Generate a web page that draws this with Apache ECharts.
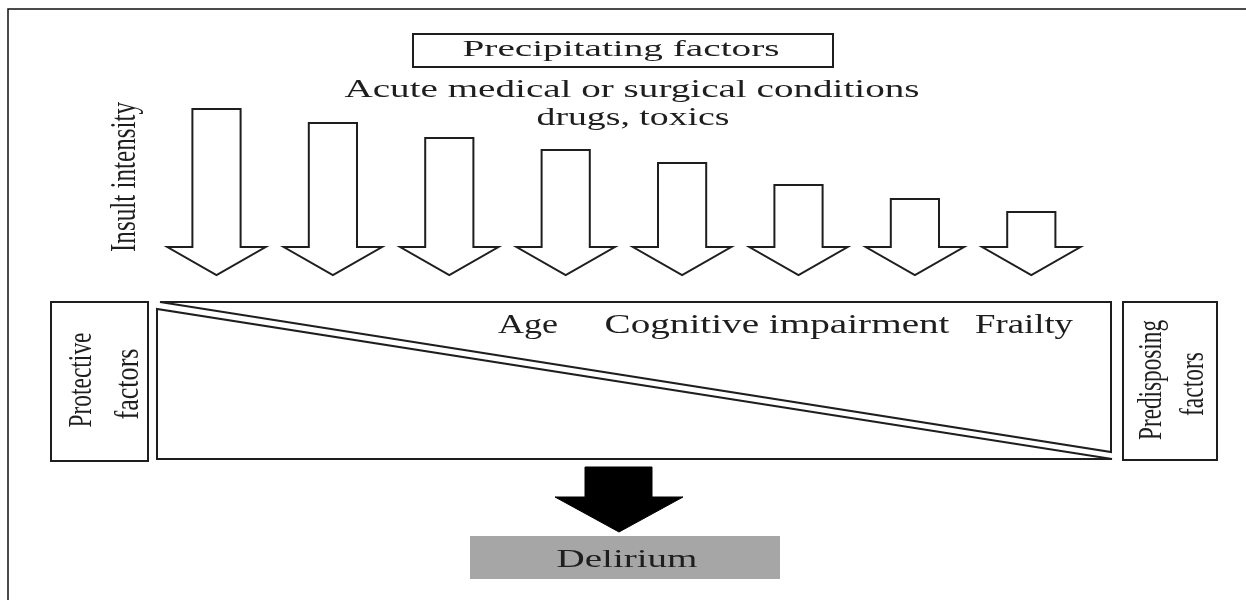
<!DOCTYPE html>
<html>
<head>
<meta charset="utf-8">
<script src="https://cdn.jsdelivr.net/npm/echarts@6/dist/echarts.min.js"></script>
<style>
  html, body { margin: 0; padding: 0; background: #fff; }
  #main { width: 1246px; height: 600px; }
</style>
</head>
<body>
<div id="main"></div>
<script>
// precipitating insults, strongest first (arrow length = insult intensity)
var insultLevels = ['1', '2', '3', '4', '5', '6', '7', '8'];
var insultIntensity = [166, 152, 137, 125, 112, 90, 76, 63];

var precipitatingTitle = 'Precipitating factors';
var precipitatingLines = ['Acute medical or surgical conditions', 'drugs, toxics'];
var predisposingFactors = ['Age', 'Cognitive impairment', 'Frailty'];
var outcome = 'Delirium';

var SERIF = '"Liberation Serif", "Times New Roman", serif';
var INK = '#1e1e1e';
var headLength = 28;

var measureCtx = document.createElement('canvas').getContext('2d');
function textWidth(t, size) {
    measureCtx.font = size + 'px ' + SERIF;
    return measureCtx.measureText(t).width;
}

// horizontal text stretched to a given width (the figure is wide-set)
function hText(t, cx, cy, size, width) {
    return {
        type: 'text', silent: true, x: cx, y: cy,
        scaleX: width / textWidth(t, size),
        style: {
            text: t, x: 0, y: 0, fill: INK,
            fontSize: size, fontFamily: SERIF,
            align: 'center', verticalAlign: 'middle',
            textAlign: 'center', textVerticalAlign: 'middle'
        }
    };
}

// vertical text reading bottom to top
function vText(t, cx, cy, size, length, across) {
    return {
        type: 'text', silent: true, x: cx, y: cy,
        rotation: Math.PI / 2,
        scaleX: length / textWidth(t, size),
        scaleY: across,
        style: {
            text: t, x: 0, y: 0, fill: INK,
            fontSize: size, fontFamily: SERIF,
            align: 'center', verticalAlign: 'middle',
            textAlign: 'center', textVerticalAlign: 'middle'
        }
    };
}

function box(x, y, w, h) {
    return {
        type: 'rect', silent: true,
        shape: { x: x, y: y, width: w, height: h },
        style: { fill: 'none', stroke: INK, lineWidth: 2 }
    };
}

var graphics = [
    // outer frame (left and top only)
    { type: 'polyline', silent: true,
      shape: { points: [[8, 600], [8, 9], [1246, 9]] },
      style: { stroke: '#111', lineWidth: 1.5, fill: 'none' } },

    box(413, 34, 420, 33),
    hText(precipitatingTitle, 621, 50, 24, 317),
    hText(precipitatingLines[0], 632, 90, 25, 575),
    hText(precipitatingLines[1], 633, 118, 25, 193),

    vText('Insult intensity', 126, 177, 25, 150, 1.4),

    // protective / predisposing wedge
    { type: 'polygon', silent: true,
      shape: { points: [[160, 302], [1111, 302], [1111, 452]] },
      style: { fill: 'none', stroke: INK, lineWidth: 2 } },
    { type: 'polygon', silent: true,
      shape: { points: [[157, 309], [157, 459], [1112, 459]] },
      style: { fill: 'none', stroke: INK, lineWidth: 2 } },

    hText(predisposingFactors[0], 528, 326, 27, 60),
    hText(predisposingFactors[1], 777, 326, 27, 345),
    hText(predisposingFactors[2], 1024, 326, 27, 98),

    box(51, 302, 97, 159),
    vText('Protective', 82, 380, 23, 95, 1.5),
    vText('factors', 129, 384, 23, 71, 1.5),

    box(1123, 302, 94, 158),
    vText('Predisposing', 1152, 380, 23, 120, 1.5),
    vText('factors', 1194, 384, 23, 64, 1.5),

    // outcome
    { type: 'polygon', silent: true,
      shape: { points: [[585, 467], [652, 467], [652, 497], [683, 497], [619, 532], [555, 497], [585, 497]] },
      style: { fill: '#000', stroke: '#000', lineWidth: 1 } },
    { type: 'rect', silent: true,
      shape: { x: 470, y: 536, width: 310, height: 43 },
      style: { fill: '#a6a6a6' } },
    hText(outcome, 627, 560, 26, 141)
];

var chart = echarts.init(document.getElementById('main'));
chart.setOption({
    animation: false,
    backgroundColor: '#fff',
    grid: { left: 158.3, right: 156.5, top: 75, bottom: 325 },
    xAxis: { type: 'category', data: insultLevels, show: false },
    yAxis: { type: 'value', min: 0, max: 200, show: false },
    series: [{
        type: 'custom',
        data: insultIntensity.map(function (v, i) { return [i, v]; }),
        renderItem: function (params, api) {
            var tip = api.coord([api.value(0), 0]);
            var top = api.coord([api.value(0), api.value(1)]);
            var band = api.size([1, 0])[0];
            var head = api.size([0, headLength])[1];
            var sw = band * 0.207, hw = band * 0.422;
            var cx = tip[0], base = tip[1] - head;
            return {
                type: 'polygon',
                shape: { points: [
                    [cx - sw, top[1]], [cx + sw, top[1]], [cx + sw, base],
                    [cx + hw, base], [cx, tip[1]], [cx - hw, base], [cx - sw, base]
                ] },
                style: { fill: '#fff', stroke: INK, lineWidth: 2 }
            };
        }
    }],
    graphic: graphics
});
</script>
</body>
</html>
